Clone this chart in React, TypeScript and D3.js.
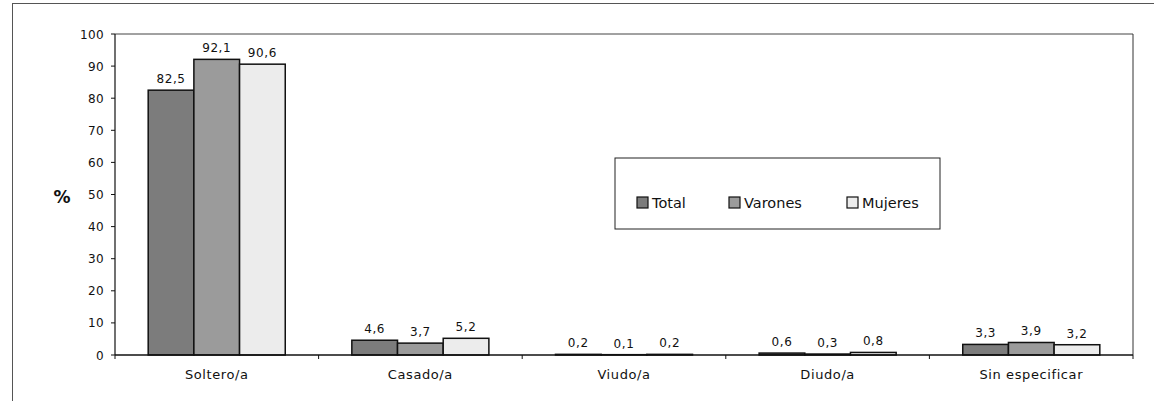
import React from "react";
import * as d3 from "d3";

const categories = ["Soltero/a", "Casado/a", "Viudo/a", "Diudo/a", "Sin especificar"];
const seriesNames = ["Total", "Varones", "Mujeres"];
const totalValues = [82.5, 4.6, 0.2, 0.6, 3.3];
const varonesValues = [92.1, 3.7, 0.1, 0.3, 3.9];
const mujeresValues = [90.6, 5.2, 0.2, 0.8, 3.2];
const yTicks = [0, 10, 20, 30, 40, 50, 60, 70, 80, 90, 100];
const seriesColors = ["#7c7c7c", "#9b9b9b", "#ececec"];

const W = 1154;
const H = 401;
const left = 115;
const right = 1133;
const top = 34;
const bottom = 355;
const FONT = "'DejaVu Sans', Arial, sans-serif";

export default function App() {
  const series = [totalValues, varonesValues, mujeresValues];
  const x0 = d3.scaleBand<string>().domain(categories).range([left, right]).paddingInner(0.327).paddingOuter(0.163);
  const x1 = d3.scaleBand<string>().domain(seriesNames).range([0, x0.bandwidth()]);
  const y = d3.scaleLinear().domain([0, 100]).range([bottom, top]);
  const fmt = (v: number) => d3.format(".1f")(v).replace(".", ",");
  const catStep = (right - left) / categories.length;
  const boundaries = d3.range(categories.length + 1).map((i) => left + i * catStep);

  return (
    <svg width={W} height={H} style={{ position: "absolute", left: 0, top: 0, background: "#fff" }} fontFamily={FONT}>
      <rect x={0} y={0} width={W} height={H} fill="#fff" />
      {/* outer frame */}
      <line x1={12} y1={3.5} x2={W} y2={3.5} stroke="#555" strokeWidth={1} />
      <line x1={12.5} y1={3} x2={12.5} y2={H} stroke="#555" strokeWidth={1} />
      {/* plot border top/right */}
      <line x1={left} y1={top} x2={right} y2={top} stroke="#444" strokeWidth={1} />
      <line x1={right} y1={top} x2={right} y2={bottom} stroke="#333" strokeWidth={1} />
      {/* bars */}
      {series.map((vals, si) =>
        vals.map((v, ci) => (
          <rect
            key={`b${si}-${ci}`}
            x={(x0(categories[ci]) as number) + (x1(seriesNames[si]) as number)}
            y={y(v)}
            width={x1.bandwidth()}
            height={bottom - y(v)}
            fill={seriesColors[si]}
            stroke="#111"
            strokeWidth={1.5}
          />
        ))
      )}
      {/* value labels */}
      {series.map((vals, si) =>
        vals.map((v, ci) => (
          <text
            key={`l${si}-${ci}`}
            x={(x0(categories[ci]) as number) + (x1(seriesNames[si]) as number) + x1.bandwidth() / 2}
            y={y(v) - 7}
            textAnchor="middle"
            fontSize={12}
            letterSpacing={0.6}
            fill="#111"
          >
            {fmt(v)}
          </text>
        ))
      )}
      {/* y axis */}
      <line x1={left} y1={top} x2={left} y2={bottom} stroke="#111" strokeWidth={1.2} />
      {yTicks.map((t) => (
        <g key={`yt${t}`}>
          <line x1={left - 4} y1={y(t)} x2={left} y2={y(t)} stroke="#111" />
          <text x={104} y={y(t) + 4.5} textAnchor="end" fontSize={12} letterSpacing={0.4} fill="#111">
            {t}
          </text>
        </g>
      ))}
      <text x={62} y={203} textAnchor="middle" fontSize={17} fontWeight="bold" fill="#111">
        %
      </text>
      {/* x axis */}
      <line x1={left} y1={bottom} x2={right} y2={bottom} stroke="#111" strokeWidth={1.5} />
      {boundaries.map((b, i) => (
        <line key={`xt${i}`} x1={b} y1={bottom} x2={b} y2={bottom + 4} stroke="#111" />
      ))}
      {categories.map((c) => (
        <text
          key={`c${c}`}
          x={(x0(c) as number) + x0.bandwidth() / 2}
          y={379}
          textAnchor="middle"
          fontSize={13}
          letterSpacing={0.6}
          fill="#111"
        >
          {c}
        </text>
      ))}
      {/* legend */}
      <rect x={615} y={158} width={325} height={71} fill="#fff" stroke="#222" strokeWidth={1} />
      {seriesNames.map((s, i) => {
        const lx = [637, 729, 847][i];
        return (
          <g key={`lg${s}`}>
            <rect x={lx} y={197} width={11} height={11} fill={seriesColors[i]} stroke="#111" strokeWidth={1.2} />
            <text x={lx + 15} y={208} fontSize={14.5} fill="#111">
              {s}
            </text>
          </g>
        );
      })}
    </svg>
  );
}
